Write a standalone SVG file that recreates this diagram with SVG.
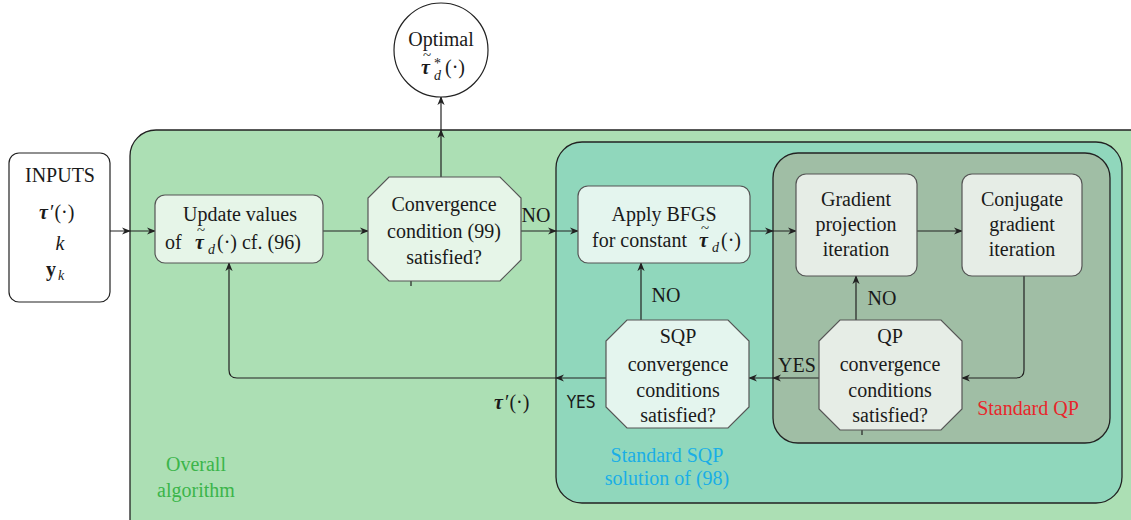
<svg xmlns="http://www.w3.org/2000/svg" width="1131" height="520" viewBox="0 0 1131 520">
<style>
text{font-family:'Liberation Serif','Times New Roman',serif;font-size:20px;fill:#1a1a1a;text-anchor:middle}
.s{text-anchor:start}
.m{font-style:italic;font-weight:bold}
.i{font-style:italic}
.sub{font-size:14px;font-style:italic;text-anchor:start}
.tl{font-size:15px}
.node{stroke:#555;stroke-width:1.2}
.c{fill:none;stroke:#222;stroke-width:1.2}
.cont{stroke:#222;stroke-width:1.3}
</style>
<defs>
<marker id="ah" viewBox="0 0 10 10" refX="9" refY="5" markerWidth="9" markerHeight="9" markerUnits="userSpaceOnUse" orient="auto">
<path d="M0,1 L10,5 L0,9 L3,5 z" fill="#222"/>
</marker>
</defs>

<g id="containers">
<rect x="130" y="130" width="1030" height="420" rx="26" fill="#acdfb4" class="cont"/>
<rect x="556" y="142" width="566" height="361" rx="26" fill="#90d7bc" class="cont"/>
<rect x="773" y="153" width="337" height="290" rx="25" fill="#a0bea5" class="cont"/>
<text x="196" y="471" style="fill:#3bb54a">Overall</text>
<text x="196" y="497" style="fill:#3bb54a">algorithm</text>
<text x="667" y="462" style="fill:#1aaee6">Standard SQP</text>
<text x="667" y="485" style="fill:#1aaee6">solution of (98)</text>
<text x="1028" y="415" style="fill:#e8262b">Standard QP</text>
</g>

<g id="connectors">
<path class="c" d="M110,231 L130,231 L155,231" marker-mid="url(#ah)" marker-end="url(#ah)"/>
<path class="c" d="M323,231 L368,231" marker-end="url(#ah)"/>
<path class="c" d="M441,177 L441,130 L441,97" marker-mid="url(#ah)" marker-end="url(#ah)"/>
<path class="c" d="M521,231 L556,231 L578,231" marker-mid="url(#ah)" marker-end="url(#ah)"/>
<path class="c" d="M750,231 L773,231 L796,231" marker-mid="url(#ah)" marker-end="url(#ah)"/>
<path class="c" d="M917,231 L962,231" marker-end="url(#ah)"/>
<path class="c" d="M1024,276 L1024,370 Q1024,378 1016,378 L962,378" marker-end="url(#ah)"/>
<path class="c" d="M819,378 L773,378 L749,378" marker-mid="url(#ah)" marker-end="url(#ah)"/>
<path class="c" d="M856,320 L856,276" marker-end="url(#ah)"/>
<path class="c" d="M641,320 L641,263" marker-end="url(#ah)"/>
<path class="c" d="M606,378 L556,378" marker-end="url(#ah)"/>
<path class="c" d="M556,378 L237,378 Q229,378 229,370 L229,263" marker-end="url(#ah)"/>
<path class="c" d="M411,281 L411,286"/>
<path class="c" d="M862,430 L862,435"/>
<text x="536" y="222">NO</text>
<text x="666" y="302">NO</text>
<text x="882" y="305">NO</text>
<text x="797" y="372">YES</text>
<text x="581" y="408" style="font-family:'DejaVu Sans Condensed','DejaVu Sans',sans-serif;font-size:17px">YES</text>
<text x="494" y="409" class="s m">τ</text>
<text x="505" y="409" class="s">′(·)</text>
</g>

<g id="optimal">
<circle cx="441" cy="50" r="47" fill="#fff" stroke="#222" stroke-width="1.2"/>
<text x="441" y="46">Optimal</text>
<text x="421" y="74" class="s m">τ</text>
<text x="427" y="60" class="tl">~</text>
<text x="434" y="68" class="s" style="font-size:14px">*</text>
<text x="434" y="80" class="sub">d</text>
<text x="445" y="74" class="s">(·)</text>
</g>

<g id="inputs">
<rect x="9" y="153" width="101" height="149" rx="10" fill="#fff" stroke="#222" stroke-width="1.2"/>
<text x="60" y="182">INPUTS</text>
<text x="39" y="219" class="s m">τ</text>
<text x="50" y="219" class="s">′(·)</text>
<text x="60" y="250" class="i">k</text>
<text x="46" y="276" class="s" style="font-weight:bold">y</text>
<text x="58" y="280" class="sub">k</text>
</g>

<g id="update">
<rect x="155" y="195" width="168" height="68" rx="10" fill="#e6f5e8" class="node"/>
<text x="240" y="221">Update values</text>
<text x="165" y="249" class="s">of</text>
<text x="195" y="249" class="s m">τ</text>
<text x="201" y="235" class="tl">~</text>
<text x="208" y="254" class="sub">d</text>
<text x="217" y="249" class="s">(·) cf. (96)</text>
</g>

<g id="convergence">
<polygon points="389,177 500,177 521,198 521,260 500,281 389,281 368,260 368,198" fill="#e6f5e8" class="node"/>
<text x="444" y="211">Convergence</text>
<text x="444" y="238">condition (99)</text>
<text x="444" y="264">satisfied?</text>
</g>

<g id="bfgs">
<rect x="578" y="186" width="172" height="77" rx="10" fill="#e4f5ee" class="node"/>
<text x="664" y="221">Apply BFGS</text>
<text x="592" y="247" class="s">for constant</text>
<text x="699" y="247" class="s m">τ</text>
<text x="705" y="233" class="tl">~</text>
<text x="712" y="252" class="sub">d</text>
<text x="721" y="247" class="s">(·)</text>
</g>

<g id="gradproj">
<rect x="796" y="174" width="121" height="102" rx="10" fill="#e6ede6" class="node"/>
<text x="856" y="206">Gradient</text>
<text x="856" y="231">projection</text>
<text x="856" y="256">iteration</text>
</g>

<g id="conjgrad">
<rect x="962" y="174" width="120" height="102" rx="10" fill="#e6ede6" class="node"/>
<text x="1022" y="206">Conjugate</text>
<text x="1022" y="231">gradient</text>
<text x="1022" y="256">iteration</text>
</g>

<g id="sqpcheck">
<polygon points="627,320 728,320 749,341 749,407 728,428 627,428 606,407 606,341" fill="#e4f5ee" class="node"/>
<text x="678" y="343">SQP</text>
<text x="678" y="371">convergence</text>
<text x="678" y="397">conditions</text>
<text x="678" y="422">satisfied?</text>
</g>

<g id="qpcheck">
<polygon points="840,320 941,320 962,341 962,409 941,430 840,430 819,409 819,341" fill="#e6ede6" class="node"/>
<text x="890" y="343">QP</text>
<text x="890" y="371">convergence</text>
<text x="890" y="397">conditions</text>
<text x="890" y="422">satisfied?</text>
</g>
</svg>
